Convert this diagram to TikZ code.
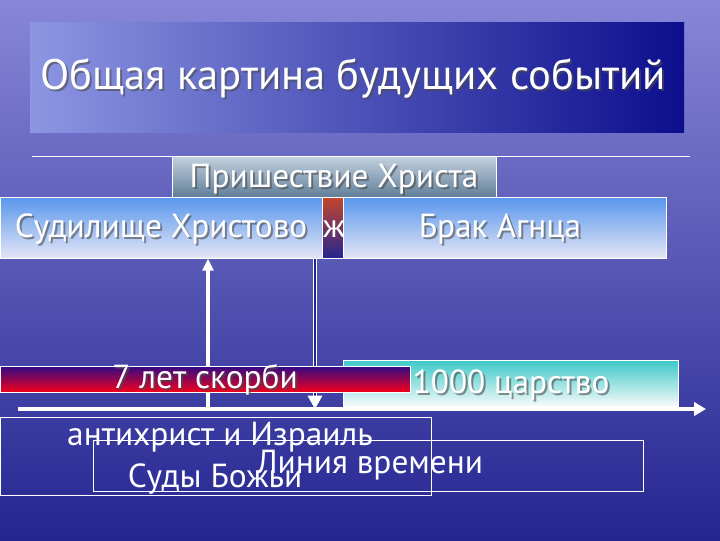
\documentclass[tikz,border=0pt]{standalone}
\usepackage{fontspec}
\setmainfont{PT Sans}
\usetikzlibrary{positioning,arrows.meta}
\definecolor{skytop}{RGB}{136,134,216}
\definecolor{skymid}{RGB}{88,90,198}
\definecolor{sea}{RGB}{36,38,144}
\definecolor{titleleft}{RGB}{140,150,226}
\definecolor{titleright}{RGB}{12,14,140}
\definecolor{prtop}{RGB}{196,210,224}
\definecolor{prbot}{RGB}{96,126,152}
\definecolor{boxtop}{RGB}{88,150,236}
\definecolor{boxbot}{RGB}{228,230,246}
\definecolor{redtop}{RGB}{196,70,44}
\definecolor{sorrowtop}{RGB}{48,10,132}
\definecolor{sorrowbot}{RGB}{244,0,28}
\definecolor{reigntop}{RGB}{60,200,200}
\definecolor{reignbot}{RGB}{246,250,250}
\tikzset{every picture/.style={line width=0.75pt}}
\tikzset{
  plate/.style={draw=white, line width=0.75pt, inner sep=0pt},
  caption/.style={text=white, inner sep=0pt},
  shadow/.style={text=black!70, opacity=0.6, inner sep=0pt},
  bigfont/.style={font=\fontsize{25}{27}\selectfont},
}

\begin{document}
\begin{tikzpicture}[x=0.75pt,y=0.75pt,yscale=-1,xscale=1]
		\useasboundingbox (0,0) rectangle (720,540);
		
		%Background
		\node [inner sep=0pt, minimum width=540pt, minimum height=405pt, top color=skytop, middle color=skymid, bottom color=sea] (bg) at (360,270) {};
		
		%Title
		\node [inner sep=0pt, minimum width=490.5pt, minimum height=82.5pt, left color=titleleft, right color=titleright] (titlebox) at (357,77) {};
		\node [shadow, font=\fontsize{32}{35}\selectfont] (titlesh) at (355,80) {Общая картина будущих событий};
		\node [caption, font=\fontsize{32}{35}\selectfont] (title) at (353,78) {Общая картина будущих событий};
		
		%Rule under title
		\coordinate (rl) at (32,156);
		\coordinate (rr) at (690,156);
		\draw [white, line width=0.75pt] (rl) -- (rr);
		
		%Coming box
		\node [plate, minimum width=243pt, minimum height=30.75pt, top color=prtop, bottom color=prbot] (coming) at (334,176.5) {};
		\node [shadow, bigfont] (comingsh) at (336,181) {Пришествие Христа};
		\node [caption, bigfont] (comingtx) at (334,179) {Пришествие Христа};
		
		%Hidden box behind
		\node [plate, minimum width=45pt, minimum height=45.75pt, top color=redtop, bottom color=sea] (hidden) at (332,227.5) {};
		\node [caption, bigfont] (hiddentx) at (334,229) {ж};
		
		%Judgement seat and wedding
		\node [plate, minimum width=241.5pt, minimum height=45.75pt, top color=boxtop, bottom color=boxbot] (seat) at (161,227.5) {};
		\node [shadow, bigfont] (seatsh) at (163,231) {Судилище Христово};
		\node [caption, bigfont] (seattx) at (161,229) {Судилище Христово};
		
		\node [plate, minimum width=242.25pt, minimum height=45.75pt, top color=boxtop, bottom color=boxbot] (wedding) at (504.5,227.5) {};
		\node [shadow, bigfont] (weddingsh) at (502,231) {Брак Агнца};
		\node [caption, bigfont] (weddingtx) at (500,229) {Брак Агнца};
		
		%Vertical arrows
		\coordinate (upfoot) at (208,409);
		\coordinate (dnfoot) at (315,409);
		\draw [white, line width=2.5pt, -{Triangle[length=9pt,width=8pt]}] (upfoot) -- (upfoot |- seat.south);
		\draw [white, line width=0.8pt, double=sea, double distance=1.5pt, -{Triangle[length=10pt,width=11pt]}] (dnfoot |- seat.south) -- (dnfoot);
		
		%1000 years
		\node [plate, minimum width=251.25pt, minimum height=34.5pt, top color=reigntop, bottom color=reignbot] (reign) at (510.5,383) {};
		\node [shadow, bigfont] (reignsh) at (513,387) {1000 царство};
		\node [caption, bigfont] (reigntx) at (511,385) {1000 царство};
		
		%7 years
		\node [plate, minimum width=307.5pt, minimum height=19.5pt, top color=sorrowtop, bottom color=sorrowbot] (sorrow) at (205,379) {};
		\node [shadow, bigfont] (sorrowsh) at (207,382) {7 лет скорби};
		\node [caption, bigfont] (sorrowtx) at (205,380) {7 лет скорби};
		
		%Time axis
		\coordinate (ax0) at (18,409);
		\coordinate (ax1) at (706,409);
		\draw [white, line width=3pt, -{Triangle[length=9pt,width=10pt]}] (ax0) -- (ax1);
		
		%Lower frames
		\node [plate, fill=none, minimum width=323.25pt, minimum height=58.5pt] (events) at (215.5,456) {};
		\node [plate, fill=none, minimum width=412.5pt, minimum height=38.25pt] (timeline) at (368,465.5) {};
		\node [caption, bigfont] (antichrist) at (220,437) {антихрист и Израиль};
		\node [caption, bigfont] (judgements) at (215,479) {Суды Божьи};
		\node [caption, bigfont] (timelinetx) at (370,465) {Линия времени};
		
\end{tikzpicture}
\end{document}
